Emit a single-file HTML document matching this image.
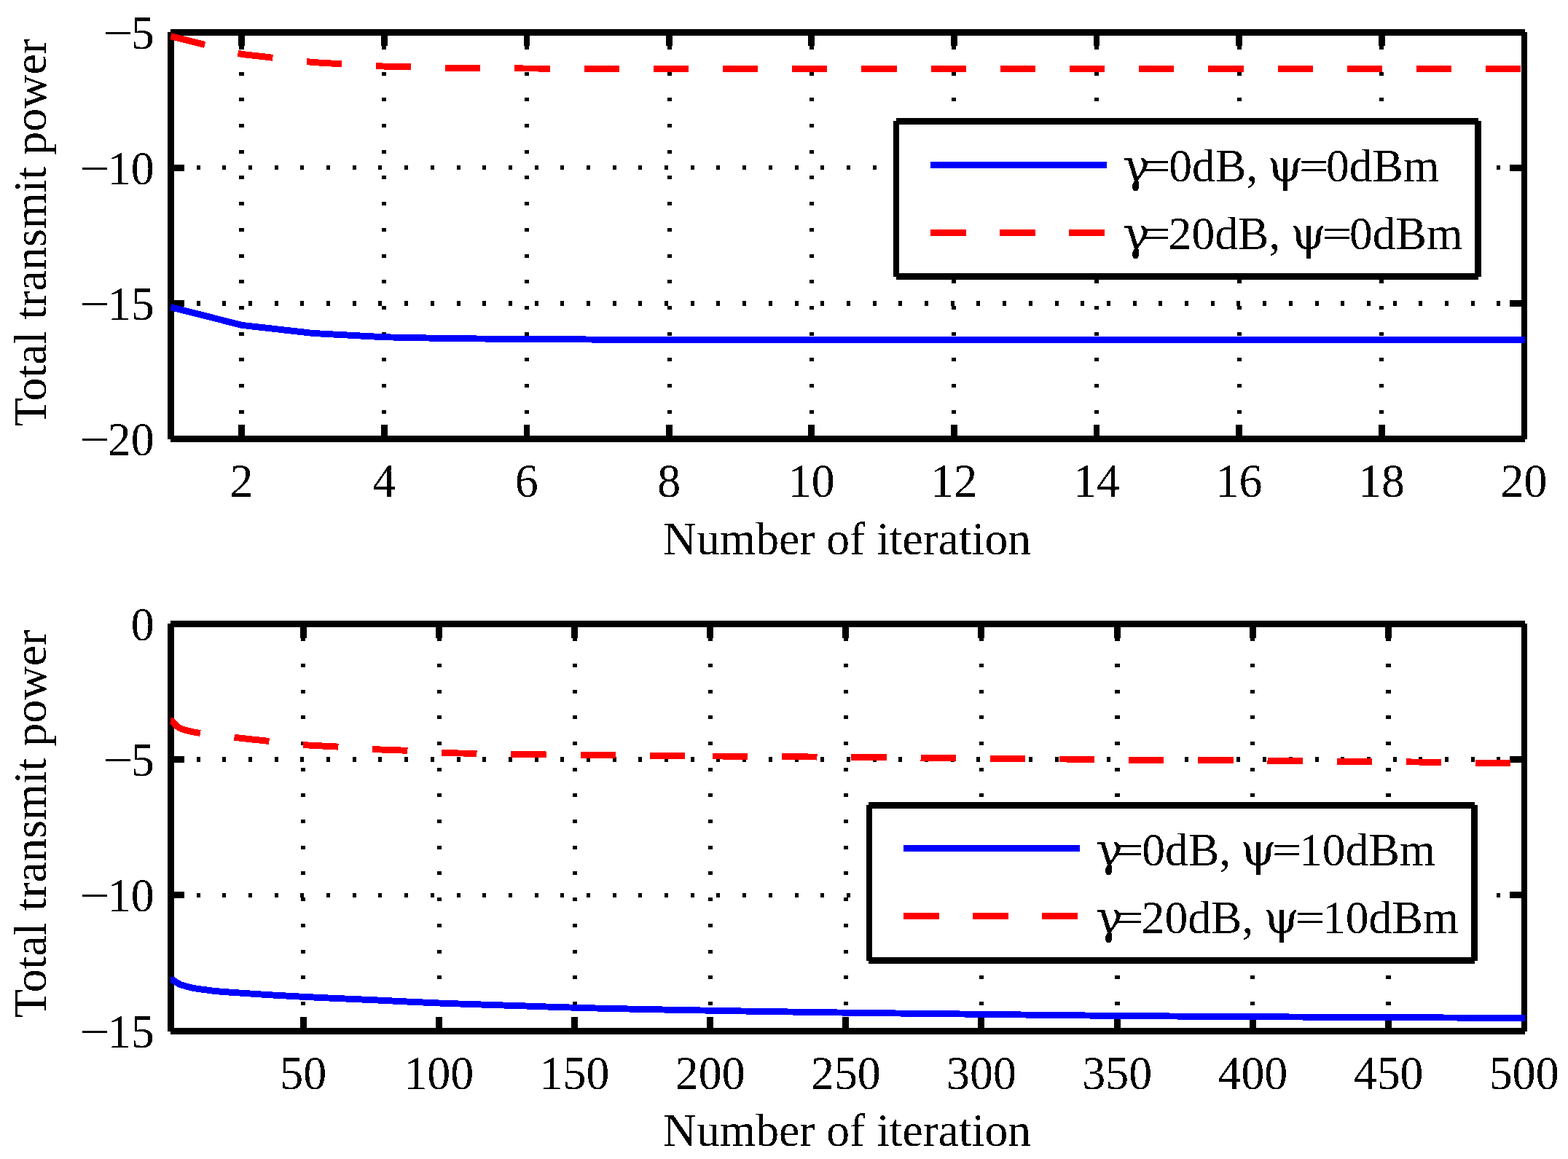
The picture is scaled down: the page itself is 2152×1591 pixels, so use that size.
<!DOCTYPE html><html><head><meta charset="utf-8"><title>Total transmit power vs number of iteration</title>
<style>html,body{margin:0;padding:0;background:#fff}svg{display:block}text{font-family:"Liberation Serif","DejaVu Serif",serif;font-size:63.6px;fill:#000}.g{font-family:"DejaVu Serif","Liberation Serif",serif;font-size:62.5px}.e{font-size:57.3px}.m{font-size:68.5px}text.t{font-size:63.9px}text.y{font-size:64px}</style></head><body>
<svg width="2152" height="1591" viewBox="0 0 2152 1591">
<rect width="2152" height="1591" fill="#fff"/>
<g shape-rendering="crispEdges">
<path fill="#000" d="M328 598h7v5h-7zM328 563h7v5h-7zM328 527h7v5h-7zM328 491h7v5h-7zM328 456h7v5h-7zM328 420h7v5h-7zM328 384h7v5h-7zM328 349h7v5h-7zM328 313h7v5h-7zM328 277h7v5h-7zM328 241h7v5h-7zM328 206h7v5h-7zM328 170h7v5h-7zM328 134h7v5h-7zM328 99h7v5h-7zM328 63h7v5h-7zM524 598h6v5h-6zM524 563h6v5h-6zM524 527h6v5h-6zM524 491h6v5h-6zM524 456h6v5h-6zM524 420h6v5h-6zM524 384h6v5h-6zM524 349h6v5h-6zM524 313h6v5h-6zM524 277h6v5h-6zM524 241h6v5h-6zM524 206h6v5h-6zM524 170h6v5h-6zM524 134h6v5h-6zM524 99h6v5h-6zM524 63h6v5h-6zM720 598h6v5h-6zM720 563h6v5h-6zM720 527h6v5h-6zM720 491h6v5h-6zM720 456h6v5h-6zM720 420h6v5h-6zM720 384h6v5h-6zM720 349h6v5h-6zM720 313h6v5h-6zM720 277h6v5h-6zM720 241h6v5h-6zM720 206h6v5h-6zM720 170h6v5h-6zM720 134h6v5h-6zM720 99h6v5h-6zM720 63h6v5h-6zM916 598h6v5h-6zM916 563h6v5h-6zM916 527h6v5h-6zM916 491h6v5h-6zM916 456h6v5h-6zM916 420h6v5h-6zM916 384h6v5h-6zM916 349h6v5h-6zM916 313h6v5h-6zM916 277h6v5h-6zM916 241h6v5h-6zM916 206h6v5h-6zM916 170h6v5h-6zM916 134h6v5h-6zM916 99h6v5h-6zM916 63h6v5h-6zM1111 598h6v5h-6zM1111 563h6v5h-6zM1111 527h6v5h-6zM1111 491h6v5h-6zM1111 456h6v5h-6zM1111 420h6v5h-6zM1111 384h6v5h-6zM1111 349h6v5h-6zM1111 313h6v5h-6zM1111 277h6v5h-6zM1111 241h6v5h-6zM1111 206h6v5h-6zM1111 170h6v5h-6zM1111 134h6v5h-6zM1111 99h6v5h-6zM1111 63h6v5h-6zM1306 598h6v5h-6zM1306 563h6v5h-6zM1306 527h6v5h-6zM1306 491h6v5h-6zM1306 456h6v5h-6zM1306 420h6v5h-6zM1306 384h6v5h-6zM1306 349h6v5h-6zM1306 313h6v5h-6zM1306 277h6v5h-6zM1306 241h6v5h-6zM1306 206h6v5h-6zM1306 170h6v5h-6zM1306 134h6v5h-6zM1306 99h6v5h-6zM1306 63h6v5h-6zM1502 598h6v5h-6zM1502 563h6v5h-6zM1502 527h6v5h-6zM1502 491h6v5h-6zM1502 456h6v5h-6zM1502 420h6v5h-6zM1502 384h6v5h-6zM1502 349h6v5h-6zM1502 313h6v5h-6zM1502 277h6v5h-6zM1502 241h6v5h-6zM1502 206h6v5h-6zM1502 170h6v5h-6zM1502 134h6v5h-6zM1502 99h6v5h-6zM1502 63h6v5h-6zM1698 598h6v5h-6zM1698 563h6v5h-6zM1698 527h6v5h-6zM1698 491h6v5h-6zM1698 456h6v5h-6zM1698 420h6v5h-6zM1698 384h6v5h-6zM1698 349h6v5h-6zM1698 313h6v5h-6zM1698 277h6v5h-6zM1698 241h6v5h-6zM1698 206h6v5h-6zM1698 170h6v5h-6zM1698 134h6v5h-6zM1698 99h6v5h-6zM1698 63h6v5h-6zM1893 598h6v5h-6zM1893 563h6v5h-6zM1893 527h6v5h-6zM1893 491h6v5h-6zM1893 456h6v5h-6zM1893 420h6v5h-6zM1893 384h6v5h-6zM1893 349h6v5h-6zM1893 313h6v5h-6zM1893 277h6v5h-6zM1893 241h6v5h-6zM1893 206h6v5h-6zM1893 170h6v5h-6zM1893 134h6v5h-6zM1893 99h6v5h-6zM1893 63h6v5h-6zM234 227h5v6h-5zM270 227h5v6h-5zM305 227h5v6h-5zM341 227h5v6h-5zM377 227h5v6h-5zM412 227h5v6h-5zM448 227h5v6h-5zM484 227h5v6h-5zM519 227h5v6h-5zM555 227h5v6h-5zM591 227h5v6h-5zM627 227h5v6h-5zM662 227h5v6h-5zM698 227h5v6h-5zM734 227h5v6h-5zM769 227h5v6h-5zM805 227h5v6h-5zM841 227h5v6h-5zM876 227h5v6h-5zM912 227h5v6h-5zM948 227h5v6h-5zM983 227h5v6h-5zM1019 227h5v6h-5zM1055 227h5v6h-5zM1091 227h5v6h-5zM1126 227h5v6h-5zM1162 227h5v6h-5zM1198 227h5v6h-5zM1233 227h5v6h-5zM1269 227h5v6h-5zM1305 227h5v6h-5zM1340 227h5v6h-5zM1376 227h5v6h-5zM1412 227h5v6h-5zM1448 227h5v6h-5zM1483 227h5v6h-5zM1519 227h5v6h-5zM1555 227h5v6h-5zM1590 227h5v6h-5zM1626 227h5v6h-5zM1662 227h5v6h-5zM1697 227h5v6h-5zM1733 227h5v6h-5zM1769 227h5v6h-5zM1805 227h5v6h-5zM1840 227h5v6h-5zM1876 227h5v6h-5zM1912 227h5v6h-5zM1947 227h5v6h-5zM1983 227h5v6h-5zM2019 227h5v6h-5zM2054 227h5v6h-5zM2090 227h5v6h-5zM234 413h5v7h-5zM270 413h5v7h-5zM305 413h5v7h-5zM341 413h5v7h-5zM377 413h5v7h-5zM412 413h5v7h-5zM448 413h5v7h-5zM484 413h5v7h-5zM519 413h5v7h-5zM555 413h5v7h-5zM591 413h5v7h-5zM627 413h5v7h-5zM662 413h5v7h-5zM698 413h5v7h-5zM734 413h5v7h-5zM769 413h5v7h-5zM805 413h5v7h-5zM841 413h5v7h-5zM876 413h5v7h-5zM912 413h5v7h-5zM948 413h5v7h-5zM983 413h5v7h-5zM1019 413h5v7h-5zM1055 413h5v7h-5zM1091 413h5v7h-5zM1126 413h5v7h-5zM1162 413h5v7h-5zM1198 413h5v7h-5zM1233 413h5v7h-5zM1269 413h5v7h-5zM1305 413h5v7h-5zM1340 413h5v7h-5zM1376 413h5v7h-5zM1412 413h5v7h-5zM1448 413h5v7h-5zM1483 413h5v7h-5zM1519 413h5v7h-5zM1555 413h5v7h-5zM1590 413h5v7h-5zM1626 413h5v7h-5zM1662 413h5v7h-5zM1697 413h5v7h-5zM1733 413h5v7h-5zM1769 413h5v7h-5zM1805 413h5v7h-5zM1840 413h5v7h-5zM1876 413h5v7h-5zM1912 413h5v7h-5zM1947 413h5v7h-5zM1983 413h5v7h-5zM2019 413h5v7h-5zM2054 413h5v7h-5zM2090 413h5v7h-5z"/>
<path fill="#000" d="M234 40h1859v9h-1859zM234 598h1859v9h-1859zM230 44h9v559h-9zM2088 44h8v559h-8zM327 49h9v14h-9zM327 583h9v15h-9zM523 49h9v14h-9zM523 583h9v15h-9zM719 49h8v14h-8zM719 583h8v15h-8zM914 49h9v14h-9zM914 583h9v15h-9zM1109 49h9v14h-9zM1109 583h9v15h-9zM1305 49h9v14h-9zM1305 583h9v15h-9zM1501 49h8v14h-8zM1501 583h8v15h-8zM1696 49h9v14h-9zM1696 583h9v15h-9zM1892 49h9v14h-9zM1892 583h9v15h-9zM239 226h14v9h-14zM2072 226h16v9h-16zM239 412h14v9h-14zM2072 412h16v9h-16z"/>
<path d="M234.3 49.6L332.1 74.4L429.9 85.6L527.7 91.1L625.5 93.4L723.2 94.0L821.0 94.3L918.8 94.4L1016.6 94.5L1114.4 94.5L1212.2 94.5L1310.0 94.5L1407.8 94.5L1505.6 94.5L1603.4 94.5L1701.2 94.5L1798.9 94.5L1896.7 94.5L1994.5 94.5L2093.0 94.5" fill="none" stroke="#f00" stroke-width="8.93" stroke-linejoin="round" stroke-dasharray="48.3 46.9"/>
<path d="M234.3 421.6L332.1 446.4L429.9 457.5L527.7 462.8L625.5 464.8L723.2 465.4L821.0 466.1L918.8 466.3L1016.6 466.4L1114.4 466.5L1212.2 466.5L1310.0 466.5L1407.8 466.5L1505.6 466.5L1603.4 466.5L1701.2 466.5L1798.9 466.5L1896.7 466.5L1994.5 466.5L2093.0 466.5" fill="none" stroke="#00f" stroke-width="8.93" stroke-linejoin="round"/>
<path fill="#000" d="M413 1411h6v5h-6zM413 1375h6v5h-6zM413 1339h6v5h-6zM413 1304h6v5h-6zM413 1268h6v5h-6zM413 1232h6v5h-6zM413 1196h6v5h-6zM413 1161h6v5h-6zM413 1125h6v5h-6zM413 1089h6v5h-6zM413 1054h6v5h-6zM413 1018h6v5h-6zM413 982h6v5h-6zM413 947h6v5h-6zM413 911h6v5h-6zM413 875h6v5h-6zM600 1411h6v5h-6zM600 1375h6v5h-6zM600 1339h6v5h-6zM600 1304h6v5h-6zM600 1268h6v5h-6zM600 1232h6v5h-6zM600 1196h6v5h-6zM600 1161h6v5h-6zM600 1125h6v5h-6zM600 1089h6v5h-6zM600 1054h6v5h-6zM600 1018h6v5h-6zM600 982h6v5h-6zM600 947h6v5h-6zM600 911h6v5h-6zM600 875h6v5h-6zM786 1411h6v5h-6zM786 1375h6v5h-6zM786 1339h6v5h-6zM786 1304h6v5h-6zM786 1268h6v5h-6zM786 1232h6v5h-6zM786 1196h6v5h-6zM786 1161h6v5h-6zM786 1125h6v5h-6zM786 1089h6v5h-6zM786 1054h6v5h-6zM786 1018h6v5h-6zM786 982h6v5h-6zM786 947h6v5h-6zM786 911h6v5h-6zM786 875h6v5h-6zM972 1411h6v5h-6zM972 1375h6v5h-6zM972 1339h6v5h-6zM972 1304h6v5h-6zM972 1268h6v5h-6zM972 1232h6v5h-6zM972 1196h6v5h-6zM972 1161h6v5h-6zM972 1125h6v5h-6zM972 1089h6v5h-6zM972 1054h6v5h-6zM972 1018h6v5h-6zM972 982h6v5h-6zM972 947h6v5h-6zM972 911h6v5h-6zM972 875h6v5h-6zM1158 1411h6v5h-6zM1158 1375h6v5h-6zM1158 1339h6v5h-6zM1158 1304h6v5h-6zM1158 1268h6v5h-6zM1158 1232h6v5h-6zM1158 1196h6v5h-6zM1158 1161h6v5h-6zM1158 1125h6v5h-6zM1158 1089h6v5h-6zM1158 1054h6v5h-6zM1158 1018h6v5h-6zM1158 982h6v5h-6zM1158 947h6v5h-6zM1158 911h6v5h-6zM1158 875h6v5h-6zM1344 1411h6v5h-6zM1344 1375h6v5h-6zM1344 1339h6v5h-6zM1344 1304h6v5h-6zM1344 1268h6v5h-6zM1344 1232h6v5h-6zM1344 1196h6v5h-6zM1344 1161h6v5h-6zM1344 1125h6v5h-6zM1344 1089h6v5h-6zM1344 1054h6v5h-6zM1344 1018h6v5h-6zM1344 982h6v5h-6zM1344 947h6v5h-6zM1344 911h6v5h-6zM1344 875h6v5h-6zM1530 1411h7v5h-7zM1530 1375h7v5h-7zM1530 1339h7v5h-7zM1530 1304h7v5h-7zM1530 1268h7v5h-7zM1530 1232h7v5h-7zM1530 1196h7v5h-7zM1530 1161h7v5h-7zM1530 1125h7v5h-7zM1530 1089h7v5h-7zM1530 1054h7v5h-7zM1530 1018h7v5h-7zM1530 982h7v5h-7zM1530 947h7v5h-7zM1530 911h7v5h-7zM1530 875h7v5h-7zM1716 1411h6v5h-6zM1716 1375h6v5h-6zM1716 1339h6v5h-6zM1716 1304h6v5h-6zM1716 1268h6v5h-6zM1716 1232h6v5h-6zM1716 1196h6v5h-6zM1716 1161h6v5h-6zM1716 1125h6v5h-6zM1716 1089h6v5h-6zM1716 1054h6v5h-6zM1716 1018h6v5h-6zM1716 982h6v5h-6zM1716 947h6v5h-6zM1716 911h6v5h-6zM1716 875h6v5h-6zM1902 1411h7v5h-7zM1902 1375h7v5h-7zM1902 1339h7v5h-7zM1902 1304h7v5h-7zM1902 1268h7v5h-7zM1902 1232h7v5h-7zM1902 1196h7v5h-7zM1902 1161h7v5h-7zM1902 1125h7v5h-7zM1902 1089h7v5h-7zM1902 1054h7v5h-7zM1902 1018h7v5h-7zM1902 982h7v5h-7zM1902 947h7v5h-7zM1902 911h7v5h-7zM1902 875h7v5h-7zM234 1039h5v7h-5zM270 1039h5v7h-5zM305 1039h5v7h-5zM341 1039h5v7h-5zM377 1039h5v7h-5zM412 1039h5v7h-5zM448 1039h5v7h-5zM484 1039h5v7h-5zM519 1039h5v7h-5zM555 1039h5v7h-5zM591 1039h5v7h-5zM627 1039h5v7h-5zM662 1039h5v7h-5zM698 1039h5v7h-5zM734 1039h5v7h-5zM769 1039h5v7h-5zM805 1039h5v7h-5zM841 1039h5v7h-5zM876 1039h5v7h-5zM912 1039h5v7h-5zM948 1039h5v7h-5zM983 1039h5v7h-5zM1019 1039h5v7h-5zM1055 1039h5v7h-5zM1091 1039h5v7h-5zM1126 1039h5v7h-5zM1162 1039h5v7h-5zM1198 1039h5v7h-5zM1233 1039h5v7h-5zM1269 1039h5v7h-5zM1305 1039h5v7h-5zM1340 1039h5v7h-5zM1376 1039h5v7h-5zM1412 1039h5v7h-5zM1448 1039h5v7h-5zM1483 1039h5v7h-5zM1519 1039h5v7h-5zM1555 1039h5v7h-5zM1590 1039h5v7h-5zM1626 1039h5v7h-5zM1662 1039h5v7h-5zM1697 1039h5v7h-5zM1733 1039h5v7h-5zM1769 1039h5v7h-5zM1805 1039h5v7h-5zM1840 1039h5v7h-5zM1876 1039h5v7h-5zM1912 1039h5v7h-5zM1947 1039h5v7h-5zM1983 1039h5v7h-5zM2019 1039h5v7h-5zM2054 1039h5v7h-5zM2090 1039h5v7h-5zM234 1226h5v6h-5zM270 1226h5v6h-5zM305 1226h5v6h-5zM341 1226h5v6h-5zM377 1226h5v6h-5zM412 1226h5v6h-5zM448 1226h5v6h-5zM484 1226h5v6h-5zM519 1226h5v6h-5zM555 1226h5v6h-5zM591 1226h5v6h-5zM627 1226h5v6h-5zM662 1226h5v6h-5zM698 1226h5v6h-5zM734 1226h5v6h-5zM769 1226h5v6h-5zM805 1226h5v6h-5zM841 1226h5v6h-5zM876 1226h5v6h-5zM912 1226h5v6h-5zM948 1226h5v6h-5zM983 1226h5v6h-5zM1019 1226h5v6h-5zM1055 1226h5v6h-5zM1091 1226h5v6h-5zM1126 1226h5v6h-5zM1162 1226h5v6h-5zM1198 1226h5v6h-5zM1233 1226h5v6h-5zM1269 1226h5v6h-5zM1305 1226h5v6h-5zM1340 1226h5v6h-5zM1376 1226h5v6h-5zM1412 1226h5v6h-5zM1448 1226h5v6h-5zM1483 1226h5v6h-5zM1519 1226h5v6h-5zM1555 1226h5v6h-5zM1590 1226h5v6h-5zM1626 1226h5v6h-5zM1662 1226h5v6h-5zM1697 1226h5v6h-5zM1733 1226h5v6h-5zM1769 1226h5v6h-5zM1805 1226h5v6h-5zM1840 1226h5v6h-5zM1876 1226h5v6h-5zM1912 1226h5v6h-5zM1947 1226h5v6h-5zM1983 1226h5v6h-5zM2019 1226h5v6h-5zM2054 1226h5v6h-5zM2090 1226h5v6h-5z"/>
<path fill="#000" d="M234 852h1859v9h-1859zM234 1411h1859v9h-1859zM230 856h9v560h-9zM2088 856h8v560h-8zM412 861h9v15h-9zM412 1396h9v15h-9zM598 861h9v15h-9zM598 1396h9v15h-9zM784 861h9v15h-9zM784 1396h9v15h-9zM970 861h9v15h-9zM970 1396h9v15h-9zM1156 861h9v15h-9zM1156 1396h9v15h-9zM1342 861h9v15h-9zM1342 1396h9v15h-9zM1529 861h9v15h-9zM1529 1396h9v15h-9zM1715 861h9v15h-9zM1715 1396h9v15h-9zM1901 861h9v15h-9zM1901 1396h9v15h-9zM239 1038h14v9h-14zM2072 1038h16v9h-16zM239 1224h14v9h-14zM2072 1224h16v9h-16z"/>
<path d="M233.9 989.6L236.6 990.0L238.6 992.2L240.4 994.6L242.5 996.7L245.0 998.4L248.0 1000.0L252.0 1001.5L256.0 1002.7L264.0 1004.7L275.0 1006.5L278.0 1006.9L282.0 1007.4L286.0 1008.0L290.0 1008.5L294.0 1009.0L298.0 1009.5L302.0 1010.1L306.0 1010.5L310.0 1011.0L314.0 1011.5L318.0 1012.0L322.0 1012.4L326.0 1012.8L330.0 1013.3L334.0 1013.7L338.0 1014.1L342.0 1014.6L346.0 1015.0L350.0 1015.4L354.0 1015.8L358.0 1016.3L362.0 1016.7L366.0 1017.1L370.0 1017.5L374.0 1018.0L378.0 1018.4L382.0 1018.9L386.0 1019.4L390.0 1019.9L394.0 1020.4L398.0 1020.8L402.0 1021.3L406.0 1021.7L410.0 1022.0L414.0 1022.4L418.0 1022.7L422.0 1022.9L426.0 1023.2L430.0 1023.4L434.0 1023.6L438.0 1023.8L442.0 1024.0L446.0 1024.2L450.0 1024.4L454.0 1024.6L458.0 1024.8L462.0 1025.0L466.0 1025.3L470.0 1025.5L474.0 1025.8L478.0 1026.1L482.0 1026.5L486.0 1026.8L490.0 1027.1L494.0 1027.4L498.0 1027.7L502.0 1028.0L506.0 1028.2L510.0 1028.4L514.0 1028.6L518.0 1028.8L522.0 1029.0L526.0 1029.1L530.0 1029.3L534.0 1029.4L538.0 1029.5L542.0 1029.7L546.0 1029.8L550.0 1030.0L554.0 1030.1L558.0 1030.3L562.0 1030.5L566.0 1030.7L570.0 1031.0L574.0 1031.3L578.0 1031.6L582.0 1032.0L586.0 1032.3L590.0 1032.6L594.0 1032.8L598.0 1033.1L602.0 1033.3L606.0 1033.4L610.0 1033.5L614.0 1033.6L618.0 1033.7L622.0 1033.8L626.0 1033.9L630.0 1034.0L634.0 1034.0L638.0 1034.1L642.0 1034.2L646.0 1034.2L650.0 1034.3L654.0 1034.4L658.0 1034.5L662.0 1034.6L666.0 1034.7L670.0 1034.8L674.0 1034.9L678.0 1034.9L682.0 1035.0L686.0 1035.1L690.0 1035.2L694.0 1035.3L698.0 1035.4L702.0 1035.4L706.0 1035.5L710.0 1035.5L714.0 1035.6L718.0 1035.6L722.0 1035.7L726.0 1035.7L730.0 1035.8L734.0 1035.8L738.0 1035.8L742.0 1035.9L746.0 1035.9L750.0 1036.0L754.0 1036.0L758.0 1036.0L762.0 1036.1L766.0 1036.1L770.0 1036.1L774.0 1036.2L778.0 1036.2L782.0 1036.3L786.0 1036.3L790.0 1036.3L794.0 1036.4L798.0 1036.4L802.0 1036.5L806.0 1036.5L810.0 1036.6L814.0 1036.6L818.0 1036.6L822.0 1036.7L826.0 1036.7L830.0 1036.8L834.0 1036.8L838.0 1036.9L842.0 1036.9L846.0 1037.0L850.0 1037.0L854.0 1037.0L858.0 1037.1L862.0 1037.1L866.0 1037.2L870.0 1037.2L874.0 1037.2L878.0 1037.3L882.0 1037.3L886.0 1037.4L890.0 1037.4L894.0 1037.4L898.0 1037.5L902.0 1037.5L906.0 1037.5L910.0 1037.5L914.0 1037.6L918.0 1037.6L922.0 1037.6L926.0 1037.6L930.0 1037.7L934.0 1037.7L938.0 1037.7L942.0 1037.7L946.0 1037.8L950.0 1037.8L954.0 1037.8L958.0 1037.8L962.0 1037.9L966.0 1037.9L970.0 1037.9L974.0 1037.9L978.0 1038.0" fill="none" stroke="#f00" stroke-width="8.93" stroke-linejoin="round" stroke-dasharray="48.3 46.9" stroke-dashoffset="2.4"/>
<path d="M978.0 1038.0L982.0 1038.0L986.0 1038.0L990.0 1038.0L994.0 1038.1L998.0 1038.1L1002.0 1038.1L1006.0 1038.1L1010.0 1038.2L1014.0 1038.2L1018.0 1038.2L1022.0 1038.3L1026.0 1038.3L1030.0 1038.3L1034.0 1038.4L1038.0 1038.4L1042.0 1038.4L1046.0 1038.5L1050.0 1038.5L1054.0 1038.5L1058.0 1038.6L1062.0 1038.6L1066.0 1038.6L1070.0 1038.7L1074.0 1038.7L1078.0 1038.7L1082.0 1038.8L1086.0 1038.8L1090.0 1038.8L1094.0 1038.9L1098.0 1038.9L1102.0 1038.9L1106.0 1038.9L1110.0 1039.0L1114.0 1039.0L1118.0 1039.0L1122.0 1039.1L1126.0 1039.1L1130.0 1039.2L1134.0 1039.2L1138.0 1039.2L1142.0 1039.3L1146.0 1039.3L1150.0 1039.3L1154.0 1039.4L1158.0 1039.4L1162.0 1039.4L1166.0 1039.5L1170.0 1039.5L1174.0 1039.5L1178.0 1039.6L1182.0 1039.6L1186.0 1039.6L1190.0 1039.7L1194.0 1039.7L1198.0 1039.7L1202.0 1039.8L1206.0 1039.8L1210.0 1039.8L1214.0 1039.9L1218.0 1039.9L1222.0 1040.0L1226.0 1040.0L1230.0 1040.0L1234.0 1040.1L1238.0 1040.1L1242.0 1040.1L1246.0 1040.2L1250.0 1040.2L1254.0 1040.3L1258.0 1040.3L1262.0 1040.3L1266.0 1040.4L1270.0 1040.4L1274.0 1040.5L1278.0 1040.5L1282.0 1040.5L1286.0 1040.6L1290.0 1040.6L1294.0 1040.6L1298.0 1040.7L1302.0 1040.7L1306.0 1040.7L1310.0 1040.8L1314.0 1040.8L1318.0 1040.8L1322.0 1040.9L1326.0 1040.9L1330.0 1041.0L1334.0 1041.0L1338.0 1041.0L1342.0 1041.1L1346.0 1041.1L1350.0 1041.1L1354.0 1041.2L1358.0 1041.2L1362.0 1041.2L1366.0 1041.3L1370.0 1041.3L1374.0 1041.3L1378.0 1041.4L1382.0 1041.4L1386.0 1041.4L1390.0 1041.5L1394.0 1041.5L1398.0 1041.5L1402.0 1041.6L1406.0 1041.6L1410.0 1041.6L1414.0 1041.7L1418.0 1041.7L1422.0 1041.7L1426.0 1041.7L1430.0 1041.8L1434.0 1041.8L1438.0 1041.8L1442.0 1041.9L1446.0 1041.9L1450.0 1041.9L1454.0 1042.0L1458.0 1042.0L1462.0 1042.0L1466.0 1042.1L1470.0 1042.1L1474.0 1042.2L1478.0 1042.2L1482.0 1042.2L1486.0 1042.3L1490.0 1042.3L1494.0 1042.4L1498.0 1042.5L1502.0 1042.5L1506.0 1042.6L1510.0 1042.6L1514.0 1042.7L1518.0 1042.8L1522.0 1042.8L1526.0 1042.9L1530.0 1042.9L1534.0 1043.0L1538.0 1043.1L1542.0 1043.1L1546.0 1043.2L1550.0 1043.2L1554.0 1043.3L1558.0 1043.3L1562.0 1043.3L1566.0 1043.4L1570.0 1043.4L1574.0 1043.4L1578.0 1043.4L1582.0 1043.4L1586.0 1043.4L1590.0 1043.4L1594.0 1043.5L1598.0 1043.5L1602.0 1043.5L1606.0 1043.5L1610.0 1043.5L1614.0 1043.5L1618.0 1043.5L1622.0 1043.5L1626.0 1043.5L1630.0 1043.5L1634.0 1043.5L1638.0 1043.5L1642.0 1043.5L1646.0 1043.5L1650.0 1043.6L1654.0 1043.6L1658.0 1043.6L1662.0 1043.6L1666.0 1043.6L1670.0 1043.6L1674.0 1043.6L1678.0 1043.6L1682.0 1043.7L1686.0 1043.7L1690.0 1043.7L1694.0 1043.7L1698.0 1043.8L1702.0 1043.8L1706.0 1043.8L1710.0 1043.9L1714.0 1043.9L1718.0 1043.9L1722.0 1044.0L1726.0 1044.0L1730.0 1044.1L1734.0 1044.1L1738.0 1044.1L1742.0 1044.2L1746.0 1044.2L1750.0 1044.3L1754.0 1044.3L1758.0 1044.3L1762.0 1044.4L1766.0 1044.4L1770.0 1044.5L1774.0 1044.5L1778.0 1044.5L1782.0 1044.6L1786.0 1044.6L1790.0 1044.7L1794.0 1044.7L1798.0 1044.8L1802.0 1044.8L1806.0 1044.9L1810.0 1044.9L1814.0 1044.9L1818.0 1045.0L1822.0 1045.0L1826.0 1045.1L1830.0 1045.1L1834.0 1045.2L1838.0 1045.2L1842.0 1045.2L1846.0 1045.3L1850.0 1045.3L1854.0 1045.4L1858.0 1045.4L1862.0 1045.4L1866.0 1045.5L1870.0 1045.5L1874.0 1045.5L1878.0 1045.6L1882.0 1045.6L1886.0 1045.6L1890.0 1045.6L1894.0 1045.7L1898.0 1045.7L1902.0 1045.7L1906.0 1045.7L1910.0 1045.8L1914.0 1045.8L1918.0 1045.8L1922.0 1045.8L1926.0 1045.9L1930.0 1045.9L1934.0 1045.9L1938.0 1046.0L1942.0 1046.0L1946.0 1046.0L1950.0 1046.1L1954.0 1046.1L1958.0 1046.2L1962.0 1046.2L1966.0 1046.2L1970.0 1046.3L1974.0 1046.4L1978.0 1046.4L1982.0 1046.5L1986.0 1046.5L1990.0 1046.6L1994.0 1046.7L1998.0 1046.7L2002.0 1046.8L2006.0 1046.9L2010.0 1046.9L2014.0 1047.0L2018.0 1047.1L2022.0 1047.1L2026.0 1047.2L2030.0 1047.2L2034.0 1047.3L2038.0 1047.3L2042.0 1047.3L2046.0 1047.4L2050.0 1047.4L2054.0 1047.4L2058.0 1047.5L2062.0 1047.5L2066.0 1047.5L2070.0 1047.5L2074.0 1047.5L2078.0 1047.6L2082.0 1047.6L2086.0 1047.6L2090.0 1047.6L2093.0 1047.6" fill="none" stroke="#f00" stroke-width="8.93" stroke-linejoin="round" stroke-dasharray="48.3 46.9"/>
<path d="M233.9 1345.0L237.6 1345.4L240.5 1347.4L243.0 1349.0L247.0 1351.4L252.0 1353.0L259.0 1355.0L267.0 1356.7L276.0 1358.0L291.0 1360.0L294.0 1360.3L298.0 1360.7L302.0 1361.1L306.0 1361.4L310.0 1361.7L314.0 1362.0L318.0 1362.3L322.0 1362.6L326.0 1362.9L330.0 1363.1L334.0 1363.4L338.0 1363.7L342.0 1363.9L346.0 1364.2L350.0 1364.5L354.0 1364.7L358.0 1365.0L362.0 1365.2L366.0 1365.5L370.0 1365.7L374.0 1366.0L378.0 1366.2L382.0 1366.5L386.0 1366.7L390.0 1366.9L394.0 1367.1L398.0 1367.4L402.0 1367.6L406.0 1367.8L410.0 1368.0L414.0 1368.2L418.0 1368.4L422.0 1368.6L426.0 1368.8L430.0 1369.0L434.0 1369.2L438.0 1369.4L442.0 1369.6L446.0 1369.8L450.0 1370.0L454.0 1370.1L458.0 1370.3L462.0 1370.5L466.0 1370.7L470.0 1370.9L474.0 1371.0L478.0 1371.2L482.0 1371.4L486.0 1371.6L490.0 1371.8L494.0 1371.9L498.0 1372.1L502.0 1372.3L506.0 1372.5L510.0 1372.7L514.0 1372.8L518.0 1373.0L522.0 1373.2L526.0 1373.4L530.0 1373.6L534.0 1373.8L538.0 1374.0L542.0 1374.2L546.0 1374.4L550.0 1374.6L554.0 1374.8L558.0 1375.0L562.0 1375.2L566.0 1375.4L570.0 1375.6L574.0 1375.7L578.0 1375.9L582.0 1376.1L586.0 1376.3L590.0 1376.5L594.0 1376.6L598.0 1376.8L602.0 1377.0L606.0 1377.1L610.0 1377.3L614.0 1377.4L618.0 1377.6L622.0 1377.7L626.0 1377.9L630.0 1378.0L634.0 1378.1L638.0 1378.3L642.0 1378.4L646.0 1378.5L650.0 1378.7L654.0 1378.8L658.0 1378.9L662.0 1379.1L666.0 1379.2L670.0 1379.3L674.0 1379.5L678.0 1379.6L682.0 1379.7L686.0 1379.8L690.0 1380.0L694.0 1380.1L698.0 1380.2L702.0 1380.4L706.0 1380.5L710.0 1380.6L714.0 1380.8L718.0 1380.9L722.0 1381.0L726.0 1381.2L730.0 1381.3L734.0 1381.5L738.0 1381.6L742.0 1381.7L746.0 1381.9L750.0 1382.0L754.0 1382.1L758.0 1382.3L762.0 1382.4L766.0 1382.5L770.0 1382.6L774.0 1382.8L778.0 1382.9L782.0 1383.0L786.0 1383.1L790.0 1383.2L794.0 1383.3L798.0 1383.4L802.0 1383.5L806.0 1383.7L810.0 1383.8L814.0 1383.9L818.0 1384.0L822.0 1384.1L826.0 1384.2L830.0 1384.2L834.0 1384.3L838.0 1384.4L842.0 1384.5L846.0 1384.6L850.0 1384.7L854.0 1384.8L858.0 1384.9L862.0 1385.0L866.0 1385.1L870.0 1385.2L874.0 1385.2L878.0 1385.3L882.0 1385.4L886.0 1385.5L890.0 1385.6L894.0 1385.7L898.0 1385.7L902.0 1385.8L906.0 1385.9L910.0 1386.0L914.0 1386.1L918.0 1386.1L922.0 1386.2L926.0 1386.3L930.0 1386.4L934.0 1386.4L938.0 1386.5L942.0 1386.6L946.0 1386.7L950.0 1386.7L954.0 1386.8L958.0 1386.9L962.0 1387.0L966.0 1387.0L970.0 1387.1L974.0 1387.2L978.0 1387.3L982.0 1387.3L986.0 1387.4L990.0 1387.5L994.0 1387.5L998.0 1387.6L1002.0 1387.7L1006.0 1387.7L1010.0 1387.8L1014.0 1387.9L1018.0 1388.0L1022.0 1388.0L1026.0 1388.1L1030.0 1388.2L1034.0 1388.2L1038.0 1388.3L1042.0 1388.3L1046.0 1388.4L1050.0 1388.5L1054.0 1388.5L1058.0 1388.6L1062.0 1388.7L1066.0 1388.7L1070.0 1388.8L1074.0 1388.9L1078.0 1388.9L1082.0 1389.0L1086.0 1389.0L1090.0 1389.1L1094.0 1389.2L1098.0 1389.2L1102.0 1389.3L1106.0 1389.3L1110.0 1389.4L1114.0 1389.4L1118.0 1389.5L1122.0 1389.6L1126.0 1389.6L1130.0 1389.7L1134.0 1389.7L1138.0 1389.8L1142.0 1389.8L1146.0 1389.9L1150.0 1390.0L1154.0 1390.0L1158.0 1390.1L1162.0 1390.1L1166.0 1390.2L1170.0 1390.2L1174.0 1390.3L1178.0 1390.3L1182.0 1390.4L1186.0 1390.4L1190.0 1390.5L1194.0 1390.5L1198.0 1390.6L1202.0 1390.6L1206.0 1390.7L1210.0 1390.7L1214.0 1390.8L1218.0 1390.8L1222.0 1390.9L1226.0 1390.9L1230.0 1391.0L1234.0 1391.0L1238.0 1391.1L1242.0 1391.1L1246.0 1391.2L1250.0 1391.2L1254.0 1391.2L1258.0 1391.3L1262.0 1391.3L1266.0 1391.4L1270.0 1391.4L1274.0 1391.5L1278.0 1391.5L1282.0 1391.6L1286.0 1391.6L1290.0 1391.7L1294.0 1391.7L1298.0 1391.7L1302.0 1391.8L1306.0 1391.8L1310.0 1391.9L1314.0 1391.9L1318.0 1392.0L1322.0 1392.0L1326.0 1392.1L1330.0 1392.1L1334.0 1392.2L1338.0 1392.2L1342.0 1392.2L1346.0 1392.3L1350.0 1392.3L1354.0 1392.4L1358.0 1392.4L1362.0 1392.5L1366.0 1392.5L1370.0 1392.6L1374.0 1392.6L1378.0 1392.7L1382.0 1392.7L1386.0 1392.8L1390.0 1392.8L1394.0 1392.9L1398.0 1392.9L1402.0 1393.0L1406.0 1393.0L1410.0 1393.1L1414.0 1393.1L1418.0 1393.2L1422.0 1393.2L1426.0 1393.3L1430.0 1393.3L1434.0 1393.3L1438.0 1393.4L1442.0 1393.4L1446.0 1393.5L1450.0 1393.5L1454.0 1393.6L1458.0 1393.6L1462.0 1393.7L1466.0 1393.7L1470.0 1393.8L1474.0 1393.8L1478.0 1393.9L1482.0 1393.9L1486.0 1393.9L1490.0 1394.0L1494.0 1394.0L1498.0 1394.1L1502.0 1394.1L1506.0 1394.1L1510.0 1394.2L1514.0 1394.2L1518.0 1394.3L1522.0 1394.3L1526.0 1394.3L1530.0 1394.4L1534.0 1394.4L1538.0 1394.4L1542.0 1394.5L1546.0 1394.5L1550.0 1394.5L1554.0 1394.6L1558.0 1394.6L1562.0 1394.6L1566.0 1394.7L1570.0 1394.7L1574.0 1394.7L1578.0 1394.8L1582.0 1394.8L1586.0 1394.8L1590.0 1394.9L1594.0 1394.9L1598.0 1394.9L1602.0 1394.9L1606.0 1395.0L1610.0 1395.0L1614.0 1395.0L1618.0 1395.1L1622.0 1395.1L1626.0 1395.1L1630.0 1395.1L1634.0 1395.2L1638.0 1395.2L1642.0 1395.2L1646.0 1395.2L1650.0 1395.3L1654.0 1395.3L1658.0 1395.3L1662.0 1395.4L1666.0 1395.4L1670.0 1395.4L1674.0 1395.4L1678.0 1395.5L1682.0 1395.5L1686.0 1395.5L1690.0 1395.5L1694.0 1395.5L1698.0 1395.6L1702.0 1395.6L1706.0 1395.6L1710.0 1395.6L1714.0 1395.7L1718.0 1395.7L1722.0 1395.7L1726.0 1395.7L1730.0 1395.8L1734.0 1395.8L1738.0 1395.8L1742.0 1395.8L1746.0 1395.8L1750.0 1395.9L1754.0 1395.9L1758.0 1395.9L1762.0 1395.9L1766.0 1395.9L1770.0 1396.0L1774.0 1396.0L1778.0 1396.0L1782.0 1396.0L1786.0 1396.0L1790.0 1396.1L1794.0 1396.1L1798.0 1396.1L1802.0 1396.1L1806.0 1396.1L1810.0 1396.2L1814.0 1396.2L1818.0 1396.2L1822.0 1396.2L1826.0 1396.2L1830.0 1396.2L1834.0 1396.3L1838.0 1396.3L1842.0 1396.3L1846.0 1396.3L1850.0 1396.3L1854.0 1396.4L1858.0 1396.4L1862.0 1396.4L1866.0 1396.4L1870.0 1396.4L1874.0 1396.5L1878.0 1396.5L1882.0 1396.5L1886.0 1396.5L1890.0 1396.5L1894.0 1396.5L1898.0 1396.6L1902.0 1396.6L1906.0 1396.6L1910.0 1396.6L1914.0 1396.6L1918.0 1396.7L1922.0 1396.7L1926.0 1396.7L1930.0 1396.7L1934.0 1396.7L1938.0 1396.8L1942.0 1396.8L1946.0 1396.8L1950.0 1396.8L1954.0 1396.8L1958.0 1396.9L1962.0 1396.9L1966.0 1396.9L1970.0 1396.9L1974.0 1396.9L1978.0 1396.9L1982.0 1397.0L1986.0 1397.0L1990.0 1397.0L1994.0 1397.0L1998.0 1397.0L2002.0 1397.1L2006.0 1397.1L2010.0 1397.1L2014.0 1397.1L2018.0 1397.1L2022.0 1397.2L2026.0 1397.2L2030.0 1397.2L2034.0 1397.2L2038.0 1397.2L2042.0 1397.3L2046.0 1397.3L2050.0 1397.3L2054.0 1397.3L2058.0 1397.3L2062.0 1397.4L2066.0 1397.4L2070.0 1397.4L2074.0 1397.4L2078.0 1397.4L2082.0 1397.4L2086.0 1397.5L2090.0 1397.5L2093.0 1397.5" fill="none" stroke="#00f" stroke-width="8.93" stroke-linejoin="round"/>
<path fill="#fff" d="M1228 164h803v218h-803z"/>
<path fill="#000" d="M1230 162h799v9h-799zM1230 375h799v9h-799zM1226 166h8v214h-8zM2024 166h9v214h-9z"/>
<path fill="#00f" d="M1277 222h242v9h-242z"/>
<path fill="#f00" d="M1277 315h49v9h-49zM1372 315h49v9h-49zM1467 315h49v9h-49z"/>
<path fill="#fff" d="M1191 1103h835v218h-835z"/>
<path fill="#000" d="M1192 1101h832v9h-832zM1192 1314h832v9h-832zM1189 1105h8v214h-8zM2019 1105h9v214h-9z"/>
<path fill="#00f" d="M1240 1160h242v9h-242z"/>
<path fill="#f00" d="M1240 1253h49v9h-49zM1335 1253h49v9h-49zM1430 1253h49v9h-49z"/>
</g>
<defs><filter id="bw" x="0" y="0" width="100%" height="100%" filterUnits="userSpaceOnUse" color-interpolation-filters="sRGB"><feComponentTransfer><feFuncA type="discrete" tableValues="0 1"/></feComponentTransfer></filter></defs>
<g filter="url(#bw)">
<text><tspan class="g" x="1540.6" y="249.1">γ</tspan><tspan class="e" x="1565.5" y="246.7" textLength="41.1" lengthAdjust="spacingAndGlyphs">=</tspan><tspan x="1604.3" y="249.4">0dB, </tspan><tspan class="g" x="1739.5" y="249.1">ψ</tspan><tspan class="e" x="1782.8" y="246.7" textLength="41.1" lengthAdjust="spacingAndGlyphs">=</tspan><tspan x="1820.0" y="249.4">0dBm</tspan></text>
<text><tspan class="g" x="1540.6" y="342.1">γ</tspan><tspan class="e" x="1565.5" y="339.7" textLength="41.1" lengthAdjust="spacingAndGlyphs">=</tspan><tspan x="1603.6" y="342.4">20dB, </tspan><tspan class="g" x="1771.3" y="342.1">ψ</tspan><tspan class="e" x="1814.6" y="339.7" textLength="41.1" lengthAdjust="spacingAndGlyphs">=</tspan><tspan x="1852.0" y="342.4">0dBm</tspan></text>
<text><tspan class="g" x="1503.6" y="1187.9">γ</tspan><tspan class="e" x="1528.5" y="1185.5" textLength="41.1" lengthAdjust="spacingAndGlyphs">=</tspan><tspan x="1567.3" y="1188.2">0dB, </tspan><tspan class="g" x="1702.5" y="1187.9">ψ</tspan><tspan class="e" x="1745.8" y="1185.5" textLength="41.1" lengthAdjust="spacingAndGlyphs">=</tspan><tspan x="1783.0" y="1188.2">10dBm</tspan></text>
<text><tspan class="g" x="1503.6" y="1280.9">γ</tspan><tspan class="e" x="1528.5" y="1278.5" textLength="41.1" lengthAdjust="spacingAndGlyphs">=</tspan><tspan x="1566.6" y="1281.2">20dB, </tspan><tspan class="g" x="1734.3" y="1280.9">ψ</tspan><tspan class="e" x="1777.6" y="1278.5" textLength="41.1" lengthAdjust="spacingAndGlyphs">=</tspan><tspan x="1815.0" y="1281.2">10dBm</tspan></text>
<text class="t" transform="translate(331.5 682.2) scale(1 1.021)" text-anchor="middle">2</text>
<text class="t" transform="translate(527.1 682.2) scale(1 1.021)" text-anchor="middle">4</text>
<text class="t" transform="translate(722.6 682.2) scale(1 1.021)" text-anchor="middle">6</text>
<text class="t" transform="translate(918.2 682.2) scale(1 1.021)" text-anchor="middle">8</text>
<text class="t" transform="translate(1113.7 682.2) scale(1 1.021)" text-anchor="middle">10</text>
<text class="t" transform="translate(1309.3 682.2) scale(1 1.021)" text-anchor="middle">12</text>
<text class="t" transform="translate(1504.9 682.2) scale(1 1.021)" text-anchor="middle">14</text>
<text class="t" transform="translate(1700.4 682.2) scale(1 1.021)" text-anchor="middle">16</text>
<text class="t" transform="translate(1896.0 682.2) scale(1 1.021)" text-anchor="middle">18</text>
<text class="t" transform="translate(2091.5 682.2) scale(1 1.021)" text-anchor="middle">20</text>
<text class="t" transform="translate(211.6 67.1) scale(1 1.021)" text-anchor="end"><tspan class="m" x="-70.3" y="1.4" textLength="41.2" lengthAdjust="spacingAndGlyphs" text-anchor="start">−</tspan><tspan x="0" y="0">5</tspan></text>
<text class="t" transform="translate(211.6 253.1) scale(1 1.021)" text-anchor="end"><tspan class="m" x="-102.3" y="1.4" textLength="41.2" lengthAdjust="spacingAndGlyphs" text-anchor="start">−</tspan><tspan x="0" y="0">10</tspan></text>
<text class="t" transform="translate(211.6 439.1) scale(1 1.021)" text-anchor="end"><tspan class="m" x="-102.3" y="1.4" textLength="41.2" lengthAdjust="spacingAndGlyphs" text-anchor="start">−</tspan><tspan x="0" y="0">15</tspan></text>
<text class="t" transform="translate(211.6 625.1) scale(1 1.021)" text-anchor="end"><tspan class="m" x="-102.3" y="1.4" textLength="41.2" lengthAdjust="spacingAndGlyphs" text-anchor="start">−</tspan><tspan x="0" y="0">20</tspan></text>
<text x="1162.5" y="760.6" text-anchor="middle">Number of iteration</text>
<text class="y" transform="translate(62.9 319.0) rotate(-90)" text-anchor="middle">Total transmit power</text>
<text class="t" transform="translate(416.2 1494.8) scale(1 1.021)" text-anchor="middle">50</text>
<text class="t" transform="translate(602.3 1494.8) scale(1 1.021)" text-anchor="middle">100</text>
<text class="t" transform="translate(788.5 1494.8) scale(1 1.021)" text-anchor="middle">150</text>
<text class="t" transform="translate(974.7 1494.8) scale(1 1.021)" text-anchor="middle">200</text>
<text class="t" transform="translate(1160.9 1494.8) scale(1 1.021)" text-anchor="middle">250</text>
<text class="t" transform="translate(1347.0 1494.8) scale(1 1.021)" text-anchor="middle">300</text>
<text class="t" transform="translate(1533.2 1494.8) scale(1 1.021)" text-anchor="middle">350</text>
<text class="t" transform="translate(1719.4 1494.8) scale(1 1.021)" text-anchor="middle">400</text>
<text class="t" transform="translate(1905.6 1494.8) scale(1 1.021)" text-anchor="middle">450</text>
<text class="t" transform="translate(2091.7 1494.8) scale(1 1.021)" text-anchor="middle">500</text>
<text class="t" transform="translate(211.6 879.1) scale(1 1.021)" text-anchor="end"><tspan x="0" y="0">0</tspan></text>
<text class="t" transform="translate(211.6 1065.1) scale(1 1.021)" text-anchor="end"><tspan class="m" x="-70.3" y="1.4" textLength="41.2" lengthAdjust="spacingAndGlyphs" text-anchor="start">−</tspan><tspan x="0" y="0">5</tspan></text>
<text class="t" transform="translate(211.6 1251.1) scale(1 1.021)" text-anchor="end"><tspan class="m" x="-102.3" y="1.4" textLength="41.2" lengthAdjust="spacingAndGlyphs" text-anchor="start">−</tspan><tspan x="0" y="0">10</tspan></text>
<text class="t" transform="translate(211.6 1438.1) scale(1 1.021)" text-anchor="end"><tspan class="m" x="-102.3" y="1.4" textLength="41.2" lengthAdjust="spacingAndGlyphs" text-anchor="start">−</tspan><tspan x="0" y="0">15</tspan></text>
<text x="1162.5" y="1572.6" text-anchor="middle">Number of iteration</text>
<text class="y" transform="translate(62.9 1130.8) rotate(-90)" text-anchor="middle">Total transmit power</text>
</g>
</svg></body></html>
